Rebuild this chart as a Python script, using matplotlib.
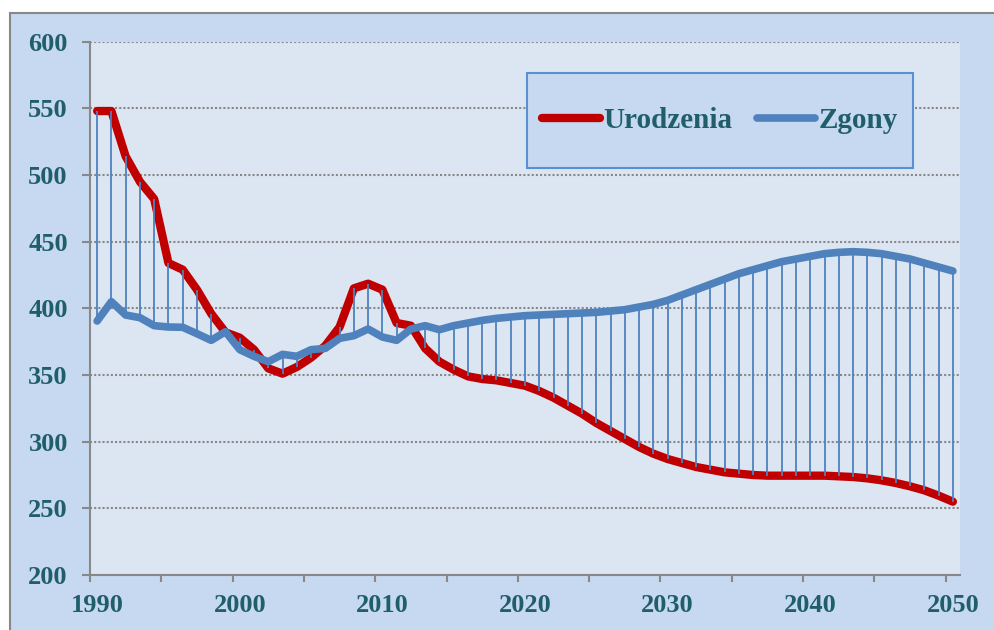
import numpy as np
import matplotlib
matplotlib.use("Agg")
import matplotlib.pyplot as plt
from matplotlib.patches import Rectangle

# dane (tys.)
lata = list(range(1990, 2051))

urodzenia = [548, 548, 514, 495, 482, 434, 429, 414, 396, 382,
             378, 369, 355, 351, 356, 363, 372, 386, 415, 418.5,
             414, 389, 387, 370, 360, 354, 349, 347, 346, 344,
             342, 338, 333, 327, 321, 314, 308, 302, 296, 291,
             287, 284, 281, 279, 277, 276, 275, 274.5, 274.5, 274.5,
             274.5, 274.5, 274, 273.5, 272.5, 271, 269, 266.5, 263.5, 259.5,
             255]

zgony = [390.5, 405, 395, 393, 387, 386, 385.8, 381, 376, 382.5,
         369, 364, 360, 365.5, 364, 369, 370, 377.5, 379.5, 384.5,
         378.5, 376, 384.5, 387, 384, 387, 389, 391, 392.5, 393.5,
         394.5, 395, 395.5, 396, 396.5, 397, 398, 399, 401, 403,
         406, 410, 414, 418, 422, 426, 429, 432, 435, 437,
         439, 441, 442, 442.5, 442, 441, 439, 437, 434, 431,
         428]

y_ticks = [200, 250, 300, 350, 400, 450, 500, 550, 600]
x_labels = [1990, 2000, 2010, 2020, 2030, 2040, 2050]

# ================================
# KOLORY / CZCIONKI
# ================================
bg_out = "#c6d9f0"
bg_in = "#dce6f2"
red = "#c00000"
blue = "#4f81bd"
txt = "#215e6c"
grey = "#888888"

plt.rcParams["font.family"] = ["Liberation Serif", "DejaVu Serif"]
plt.rcParams["font.weight"] = "bold"

fig = plt.figure(figsize=(9.95, 6.3), dpi=100)
fig.patch.set_facecolor("white")
fig.patches.append(Rectangle((10 / 995, -0.1), 1.0, 0.1 + (630 - 13) / 630,
                             transform=fig.transFigure, facecolor=bg_out,
                             edgecolor=grey, linewidth=1.5, zorder=-10))

ax = fig.add_axes([90 / 995, 1 - 575 / 630, 870 / 995, (575 - 41.7) / 630])
ax.set_zorder(1)
ax.set_facecolor(bg_in)

x = np.array(lata)
ax.vlines(x, urodzenia, zgony, color=blue, linewidth=1.3, zorder=3)
ax.plot(x, urodzenia, color=red, linewidth=6, solid_capstyle="round",
        solid_joinstyle="round", label="Urodzenia", zorder=2)
ax.plot(x, zgony, color=blue, linewidth=5.5, solid_capstyle="round",
        solid_joinstyle="round", label="Zgony", zorder=4)

ax.set_xlim(1989.5, 2050.5)
ax.set_ylim(200, 600)

ax.set_yticks(y_ticks)
ax.set_yticklabels([str(v) for v in y_ticks])
ax.yaxis.grid(True, color=grey, linewidth=1.5, linestyle=(0, (1, 1)))
ax.set_axisbelow(True)

ax.set_xticks(np.arange(1989.5, 2051, 5))
ax.set_xticklabels([])
ax.set_xticks(x_labels, minor=True)
ax.set_xticklabels([str(v) for v in x_labels], minor=True)

ax.tick_params(axis="y", which="major", direction="out", length=6, width=1.5,
               color=grey, pad=10, labelsize=19, labelcolor=txt)
ax.tick_params(axis="x", which="major", direction="out", length=5, width=1.5,
               color=grey)
ax.tick_params(axis="x", which="minor", length=0, pad=14, labelsize=19,
               labelcolor=txt)

for s in ["top", "right"]:
    ax.spines[s].set_visible(False)
for s in ["left", "bottom"]:
    ax.spines[s].set_color(grey)
    ax.spines[s].set_linewidth(1.5)

# ramka legendy
ax.add_patch(Rectangle((0.502, 0.763), 0.444, 0.178, transform=ax.transAxes,
                       facecolor=bg_out, edgecolor="#5b8fd4", linewidth=1.5,
                       zorder=5))
leg = ax.legend(loc="center", bbox_to_anchor=(0.724, 0.852), ncol=2,
                frameon=False, handlelength=2.0, handletextpad=0.1,
                columnspacing=0.85, prop={"weight": "bold", "size": 21})
leg.set_zorder(6)
for t in leg.get_texts():
    t.set_color(txt)

plt.savefig("out.png", dpi=100, facecolor=fig.get_facecolor())
